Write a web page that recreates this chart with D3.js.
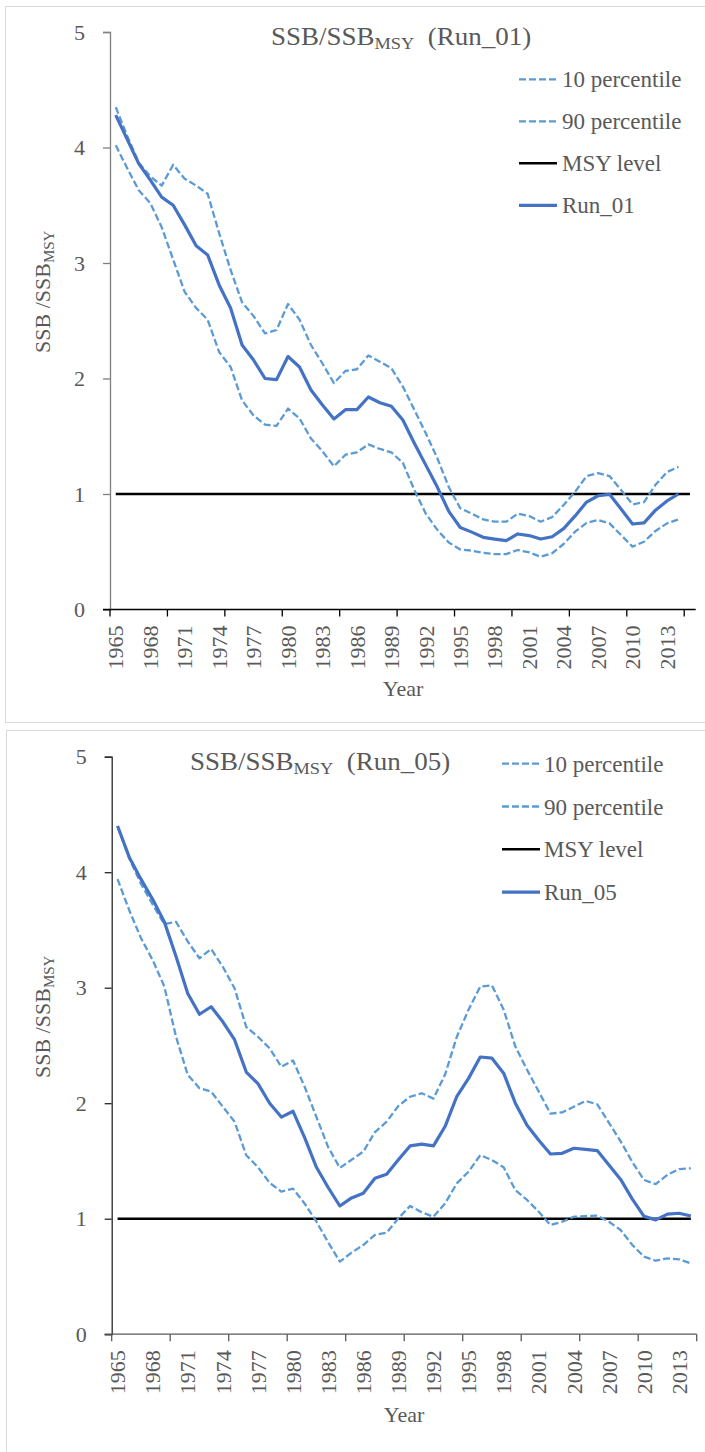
<!DOCTYPE html>
<html>
<head>
<meta charset="utf-8">
<script src="https://cdn.jsdelivr.net/npm/d3@7"></script>
<style>
  html, body { margin: 0; padding: 0; background: #fff; }
  svg { display: block; }
  text { font-family: "Liberation Serif", "Times New Roman", serif; fill: #595959; }
</style>
</head>
<body>
<svg id="chart" width="705" height="1452"></svg>
<script>
// ---- categories -------------------------------------------------------
const yearsRun01 = [1965,1966,1967,1968,1969,1970,1971,1972,1973,1974,
  1975,1976,1977,1978,1979,1980,1981,1982,1983,1984,
  1985,1986,1987,1988,1989,1990,1991,1992,1993,1994,
  1995,1996,1997,1998,1999,2000,2001,2002,2003,2004,
  2005,2006,2007,2008,2009,2010,2011,2012,2013,2014];
// the Run_01 axis carries one extra (empty) year
const axisYearsRun01 = yearsRun01.concat([2015]);
const yearsRun05 = yearsRun01.slice();

const xTickLabels = ["1965","1968","1971","1974","1977","1980","1983","1986","1989",
  "1992","1995","1998","2001","2004","2007","2010","2013"];
const yTicks = [0, 1, 2, 3, 4, 5];
const msyLevel = 1;

// ---- Run_01 -----------------------------------------------------------
const run01 = [4.28,4.07,3.86,3.72,3.57,3.50,3.33,3.15,3.07,2.81,
  2.61,2.29,2.16,2.00,1.99,2.19,2.10,1.90,1.77,1.65,
  1.73,1.73,1.84,1.79,1.76,1.64,1.44,1.25,1.06,0.85,
  0.71,0.67,0.625,0.61,0.596,0.654,0.64,0.61,0.63,0.70,
  0.81,0.93,0.985,0.997,0.87,0.74,0.75,0.86,0.94,1.00];
const run01P10 = [4.02,3.82,3.63,3.52,3.31,3.03,2.75,2.61,2.51,2.23,
  2.10,1.81,1.68,1.60,1.59,1.74,1.655,1.48,1.37,1.24,
  1.34,1.36,1.43,1.39,1.36,1.27,1.035,0.83,0.69,0.58,
  0.52,0.51,0.49,0.48,0.48,0.515,0.495,0.457,0.487,0.567,
  0.674,0.75,0.775,0.746,0.645,0.544,0.587,0.68,0.746,0.78];
const run01P90 = [4.35,4.10,3.87,3.75,3.67,3.85,3.73,3.67,3.60,3.26,
  2.94,2.66,2.54,2.39,2.42,2.645,2.51,2.29,2.13,1.96,
  2.065,2.08,2.20,2.145,2.09,1.93,1.73,1.525,1.31,1.06,
  0.876,0.83,0.78,0.76,0.76,0.83,0.81,0.76,0.80,0.905,
  1.02,1.155,1.18,1.155,1.035,0.91,0.93,1.08,1.19,1.235];

// ---- Run_05 -----------------------------------------------------------
const run05 = [4.40,4.13,3.94,3.765,3.57,3.27,2.95,2.77,2.835,2.705,
  2.55,2.27,2.17,2.00,1.88,1.93,1.70,1.445,1.27,1.11,
  1.18,1.22,1.35,1.385,1.51,1.63,1.645,1.63,1.80,2.06,
  2.215,2.40,2.39,2.26,2.00,1.81,1.68,1.56,1.566,1.61,
  1.60,1.59,1.465,1.34,1.17,1.02,0.99,1.04,1.047,1.023];
const run05P10 = [3.94,3.67,3.43,3.24,3.01,2.575,2.245,2.13,2.10,1.97,
  1.84,1.55,1.445,1.31,1.235,1.26,1.13,0.974,0.796,0.628,
  0.706,0.772,0.859,0.879,1.003,1.11,1.055,1.017,1.133,1.306,
  1.407,1.55,1.508,1.445,1.248,1.162,1.06,0.945,0.974,1.017,
  1.023,1.026,0.974,0.902,0.772,0.671,0.636,0.657,0.648,0.614];
const run05P90 = [4.40,4.12,3.90,3.72,3.55,3.57,3.40,3.255,3.335,3.18,
  2.995,2.66,2.575,2.475,2.315,2.37,2.14,1.88,1.62,1.44,
  1.51,1.58,1.75,1.84,1.976,2.056,2.086,2.04,2.25,2.576,
  2.81,3.01,3.02,2.81,2.49,2.29,2.10,1.91,1.92,1.97,
  2.02,1.99,1.83,1.67,1.49,1.335,1.30,1.38,1.43,1.436];

// ---- styles -----------------------------------------------------------
const COL_RUN = "#4472C4";
const COL_PCT = "#5B9BD5";
const COL_MSY = "#000000";
const DASH = "7,3";

const svg = d3.select("#chart");

// chart frames
svg.append("rect").attr("x", 5.5).attr("y", 6.5).attr("width", 720).attr("height", 716)
  .attr("fill", "none").attr("stroke", "#d9d9d9").attr("stroke-width", 1);
svg.append("rect").attr("x", 6.5).attr("y", 730.5).attr("width", 720).attr("height", 740)
  .attr("fill", "none").attr("stroke", "#d9d9d9").attr("stroke-width", 1);

function drawPanel(cfg) {
  const g = svg.append("g");
  const x = d3.scaleBand().domain(cfg.axisYears).range([cfg.left, cfg.right]);
  const y = d3.scaleLinear().domain([0, 5]).range([cfg.bottom, cfg.top]);
  const cx = d => x(d) + x.bandwidth() / 2;

  // y axis
  const yAxis = g.append("g")
    .attr("transform", `translate(${cfg.left},0)`)
    .call(d3.axisLeft(y).tickValues(yTicks).tickSize(7).tickPadding(18).tickFormat(d3.format("d")));
  yAxis.select(".domain").attr("stroke", cfg.yAxisColor).attr("stroke-width", 1.3);
  yAxis.selectAll(".tick line").attr("stroke", cfg.yAxisColor).attr("stroke-width", 1.3);
  yAxis.selectAll(".tick text").attr("font-size", 22)
    .style("font-family", '"Liberation Serif", "Times New Roman", serif').attr("fill", "#595959");

  // x axis baseline and category ticks (every 5 categories, at boundaries)
  g.append("line").attr("x1", cfg.left - 7).attr("x2", cfg.right)
    .attr("y1", cfg.bottom).attr("y2", cfg.bottom)
    .attr("stroke", cfg.xAxisColor).attr("stroke-width", 1.3);
  const tickYears = cfg.axisYears.filter((d, i) => i % 5 === 0);
  g.selectAll(".xtick").data(tickYears).enter().append("line")
    .attr("x1", d => x(d)).attr("x2", d => x(d))
    .attr("y1", cfg.bottom).attr("y2", cfg.bottom + 7)
    .attr("stroke", cfg.xAxisColor).attr("stroke-width", 1.3);
  if (cfg.endTick) {
    g.append("line").attr("x1", cfg.right).attr("x2", cfg.right)
      .attr("y1", cfg.bottom).attr("y2", cfg.bottom + 7)
      .attr("stroke", cfg.xAxisColor).attr("stroke-width", 1.3);
  }

  // x tick labels, rotated
  g.selectAll(".xlab").data(xTickLabels).enter().append("text")
    .attr("transform", d => `translate(${cx(+d)},${cfg.bottom + 16}) rotate(-90)`)
    .attr("text-anchor", "end").attr("dy", "0.35em")
    .attr("font-size", 22).text(d => d);

  // series
  const line = d3.line().x((d, i) => cx(cfg.years[i])).y(d => y(d));
  const msy = cfg.axisYears.map(() => msyLevel);
  g.append("path").datum(msy)
    .attr("d", d3.line().x((d, i) => cx(cfg.axisYears[i])).y(d => y(d)))
    .attr("fill", "none").attr("stroke", COL_MSY).attr("stroke-width", 2.6);
  g.append("path").datum(cfg.p10).attr("d", line)
    .attr("fill", "none").attr("stroke", COL_PCT).attr("stroke-width", 2.3)
    .attr("stroke-dasharray", DASH).attr("stroke-linejoin", "round");
  g.append("path").datum(cfg.p90).attr("d", line)
    .attr("fill", "none").attr("stroke", COL_PCT).attr("stroke-width", 2.3)
    .attr("stroke-dasharray", DASH).attr("stroke-linejoin", "round");
  g.append("path").datum(cfg.run).attr("d", line)
    .attr("fill", "none").attr("stroke", COL_RUN).attr("stroke-width", 3.2)
    .attr("stroke-linejoin", "round");

  // title
  const t = g.append("text")
    .attr("transform", `translate(${cfg.titleX},${cfg.titleY}) scale(1.08,1)`)
    .attr("font-size", 25);
  t.append("tspan").text("SSB/SSB");
  t.append("tspan").attr("font-size", 17).attr("dy", 4).text("MSY");
  t.append("tspan").attr("dy", -4).text("\u00A0\u00A0(" + cfg.name + ")");

  // y axis title
  const yl = g.append("text")
    .attr("transform", `translate(${cfg.yLabelX},${cfg.yLabelStart}) rotate(-90)`)
    .attr("font-size", 22);
  yl.append("tspan").text("SSB /SSB");
  yl.append("tspan").attr("font-size", 15).attr("dy", 4).text("MSY");

  // x axis title
  g.append("text").attr("x", cfg.yearX).attr("y", cfg.yearY)
    .attr("text-anchor", "middle").attr("font-size", 22).text("Year");

  // legend
  const items = [
    { label: "10 percentile", color: COL_PCT, dash: DASH, w: 2.3 },
    { label: "90 percentile", color: COL_PCT, dash: DASH, w: 2.3 },
    { label: "MSY level", color: COL_MSY, dash: null, w: 2.6 },
    { label: cfg.name, color: COL_RUN, dash: null, w: 3.2 }
  ];
  const lg = g.selectAll(".leg").data(items).enter().append("g")
    .attr("transform", (d, i) => `translate(0,${cfg.legY + i * cfg.legStep})`);
  lg.append("line").attr("x1", cfg.legX0).attr("x2", cfg.legX1)
    .attr("y1", -8).attr("y2", -8)
    .attr("stroke", d => d.color).attr("stroke-width", d => d.w)
    .attr("stroke-dasharray", d => d.dash);
  lg.append("text").attr("x", cfg.legText).attr("y", 0)
    .attr("font-size", 23).text(d => d.label);
}

drawPanel({
  name: "Run_01", years: yearsRun01, axisYears: axisYearsRun01,
  run: run01, p10: run01P10, p90: run01P90,
  left: 110, right: 695.7, top: 32, bottom: 609.5,
  yAxisColor: "#7f7f7f", xAxisColor: "#000000", endTick: false,
  titleX: 271, titleY: 45,
  yLabelX: 50, yLabelStart: 353,
  yearX: 403, yearY: 696,
  legX0: 519, legX1: 557, legText: 562, legY: 87.3, legStep: 42
});

drawPanel({
  name: "Run_05", years: yearsRun05, axisYears: yearsRun05,
  run: run05, p10: run05P10, p90: run05P90,
  left: 111.7, right: 696.7, top: 756.7, bottom: 1334.2,
  yAxisColor: "#262626", xAxisColor: "#595959", endTick: true,
  titleX: 190, titleY: 770,
  yLabelX: 50, yLabelStart: 1078,
  yearX: 404, yearY: 1421.7,
  legX0: 502, legX1: 540, legText: 544, legY: 771.7, legStep: 42.8
});
</script>
</body>
</html>
